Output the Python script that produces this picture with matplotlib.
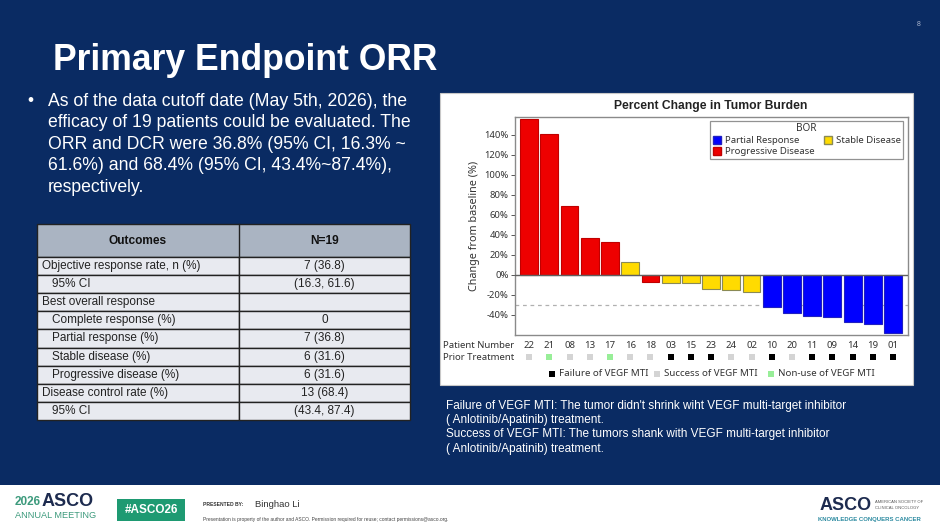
import matplotlib
matplotlib.use("Agg")
import matplotlib.pyplot as plt
from matplotlib.patches import Rectangle, Patch
from matplotlib.transforms import blended_transform_factory

# ---------------- data ----------------
patients = ["22", "21", "08", "13", "17", "16", "18", "03", "15", "23",
            "24", "02", "10", "20", "11", "09", "14", "19", "01"]
change_pct = [156, 141, 68.5, 36.5, 33, 13, -7.5, -8.3, -8.8, -14,
              -15.7, -17, -32.5, -38, -41, -42.5, -47, -49, -58.5]
bor = ["PD", "PD", "PD", "PD", "PD", "SD", "PD", "SD", "SD", "SD",
       "SD", "SD", "PR", "PR", "PR", "PR", "PR", "PR", "PR"]
prior = ["S", "N", "S", "S", "N", "S", "S", "F", "F", "F",
         "S", "S", "F", "S", "F", "F", "F", "F", "F"]
yticks = [-40, -20, 0, 20, 40, 60, 80, 100, 120, 140]
threshold = -30

table_outcomes = ["Objective response rate, n (%)", "95% CI", "Best overall response",
                  "Complete response (%)", "Partial response (%)", "Stable disease (%)",
                  "Progressive disease (%)", "Disease control rate (%)", "95% CI"]
table_indent = [False, True, False, True, True, True, True, False, True]
table_values = ["7 (36.8)", "(16.3, 61.6)", "", "0", "7 (36.8)", "6 (31.6)",
                "6 (31.6)", "13 (68.4)", "(43.4, 87.4)"]
table_header = ["Outcomes", "N=19"]

# ---------------- styles ----------------
NAVY = "#0a2b63"
bor_color = {"PR": "#0000ff", "SD": "#ffdb00", "PD": "#ee0000"}
bor_edge = {"PR": "#2020c0", "SD": "#8a8a55", "PD": "#c00000"}
bor_name = {"PR": "Partial Response", "PD": "Progressive Disease", "SD": "Stable Disease"}
prior_color = {"F": "#000000", "S": "#d4d4d4", "N": "#98ee98"}
prior_name = {"F": "Failure of VEGF MTI", "S": "Success of VEGF MTI", "N": "Non-use of VEGF MTI"}

W, H = 940, 531
fig = plt.figure(figsize=(W / 100, H / 100), dpi=100)
fig.patch.set_facecolor("white")
SL = "Liberation Sans"
CH = "Noto Sans"


def fx(x):
    return x / W


def fy(y):
    return 1 - y / H


# slide background
fig.add_artist(Rectangle((0, fy(485)), 1, 485 / H, transform=fig.transFigure,
                         facecolor=NAVY, edgecolor="none", zorder=0))

# title and bullet
fig.text(fx(53), fy(60), "Primary Endpoint ORR", color="white", fontsize=25.6,
         fontweight="bold", family=SL, va="center", ha="left")
fig.text(fx(27), fy(101), "•", color="white", fontsize=12.5, family=SL, va="center")
bullet_lines = ["As of the data cutoff date (May 5th, 2026), the",
                "efficacy of 19 patients could be evaluated. The",
                "ORR and DCR were 36.8% (95% CI, 16.3% ~",
                "61.6%) and 68.4% (95% CI, 43.4%~87.4%),",
                "respectively."]
for i, line in enumerate(bullet_lines):
    fig.text(fx(47.5), fy(101.5 + 21.4 * i), line, color="white", fontsize=12.7,
             family=SL, va="center", ha="left")

fig.text(fx(919), fy(24), "8", color="#aab4cc", fontsize=5, family=SL, va="center", ha="center")

# ---------------- table ----------------
tx0, tx1, tcol = 37, 410, 239
ty0, thead = 224, 257
row_h = (420 - thead) / len(table_outcomes)
tax = fig.add_axes([0, 0, 1, 1], zorder=2)
tax.set_xlim(0, W)
tax.set_ylim(H, 0)
tax.axis("off")
tax.add_patch(Rectangle((tx0, ty0), tx1 - tx0, thead - ty0, facecolor="#aab4c2",
                        edgecolor="#222222", lw=1.0))
tax.plot([tcol, tcol], [ty0, thead], color="#222222", lw=1.0)
tax.text((tx0 + tcol) / 2, (ty0 + thead) / 2, table_header[0], fontsize=8.6,
         fontweight="bold", family=SL, ha="center", va="center", color="#111111")
tax.text((tcol + tx1) / 2, (ty0 + thead) / 2, table_header[1], fontsize=8.6,
         fontweight="bold", family=SL, ha="center", va="center", color="#111111")
for i, (lab, ind, val) in enumerate(zip(table_outcomes, table_indent, table_values)):
    y0 = thead + i * row_h
    tax.add_patch(Rectangle((tx0, y0), tcol - tx0, row_h, facecolor="#e8eaf0",
                            edgecolor="#222222", lw=1.0))
    tax.add_patch(Rectangle((tcol, y0), tx1 - tcol, row_h, facecolor="#e8eaf0",
                            edgecolor="#222222", lw=1.0))
    tax.text(tx0 + (15 if ind else 4.5), y0 + row_h / 2, lab, fontsize=8.5, family=SL,
             ha="left", va="center", color="#222222")
    tax.text((tcol + tx1) / 2, y0 + row_h / 2, val, fontsize=8.5, family=SL,
             ha="center", va="center", color="#222222")

# ---------------- chart panel ----------------
tax.add_patch(Rectangle((440, 93), 473, 292, facecolor="white", edgecolor="#c8c8c8", lw=0.8))
tax.text(711, 106, "Percent Change in Tumor Burden", fontsize=8.7, fontweight="bold",
         family=SL, ha="center", va="center", color="#222222")

ax = fig.add_axes([fx(515), fy(335), (908 - 515) / W, (335 - 117) / H], zorder=3)
ax.set_facecolor("white")
x = list(range(len(patients)))
ax.bar(x, change_pct, width=0.88, color=[bor_color[b] for b in bor],
       edgecolor=[bor_edge[b] for b in bor], linewidth=0.8, zorder=3)
ax.axhline(0, color="#606060", lw=1.0, zorder=4)
ax.axhline(threshold, color="#b0b0b0", lw=0.9, ls=(0, (3, 3)), zorder=2)
ax.set_xlim(-0.7, len(patients) - 1 + 0.74)
ax.set_ylim(-60.5, 158)
ax.set_xticks([])
ax.set_yticks(yticks)
ax.set_yticklabels([f"{t}%" for t in yticks], fontsize=6.8, family=CH, color="#333333")
ax.tick_params(axis="y", length=3, width=0.7, color="#555555", pad=1.5)
for s in ax.spines.values():
    s.set_color("#8a8a8a")
    s.set_linewidth(1.0)
ax.set_ylabel("Change from baseline (%)", fontsize=7.8, family=CH, color="#333333", labelpad=3)

handles = [Patch(facecolor=bor_color[k], edgecolor=bor_edge[k], label=bor_name[k])
           for k in ["PR", "PD", "SD"]]
leg = ax.legend(handles=handles, title="BOR", ncol=2, loc="upper right",
                bbox_to_anchor=(0.9925, 0.99), fontsize=6.9, title_fontsize=7.2,
                frameon=True, fancybox=False, edgecolor="#777777", borderpad=0.25,
                handlelength=0.85, handleheight=1.0, handletextpad=0.4,
                columnspacing=1.0, labelspacing=0.12, borderaxespad=0.2)
leg.get_frame().set_linewidth(0.9)
leg._legend_box.sep = 1
for t in leg.get_texts():
    t.set_family(CH)
    t.set_color("#333333")
leg.get_title().set_family(CH)
leg.get_title().set_color("#333333")

bt = blended_transform_factory(ax.transData, fig.transFigure)
for xi, p, pr in zip(x, patients, prior):
    ax.text(xi, fy(345.5), p, transform=bt, fontsize=6.9, family=CH, ha="center",
            va="center", color="#333333", clip_on=False)
    ax.scatter([xi], [fy(357)], s=24, marker="s", color=prior_color[pr],
               transform=bt, clip_on=False, zorder=5, linewidths=0)
tax.text(443, 345.5, "Patient Number", fontsize=6.9, family=CH, ha="left", va="center", color="#333333")
tax.text(443, 357, "Prior Treatment", fontsize=6.9, family=CH, ha="left", va="center", color="#333333")

for xk, key in zip([552, 657, 771], ["F", "S", "N"]):
    tax.scatter([xk], [374], s=24, marker="s", color=prior_color[key], linewidths=0, zorder=5)
    tax.text(xk + 7, 374, prior_name[key], fontsize=7.0, family=CH, ha="left",
             va="center", color="#333333")

# notes under chart
notes = ["Failure of VEGF MTI: The tumor didn't shrink wiht VEGF multi-target inhibitor",
         "( Anlotinib/Apatinib) treatment.",
         "Success of VEGF MTI: The tumors shank with VEGF multi-target inhibitor",
         "( Anlotinib/Apatinib) treatment."]
for i, line in enumerate(notes):
    tax.text(446.5, 406 + 14.2 * i, line, fontsize=8.5, family=SL, ha="left",
             va="center", color="white")

# ---------------- footer ----------------
tax.text(15, 502, "2026", fontsize=8.5, fontweight="bold", family=SL, color="#3c9a7c",
         ha="left", va="center")
tax.text(42, 501, "ASCO", fontsize=13, fontweight="bold", family=SL, color="#1d2b4f",
         ha="left", va="center")
tax.text(15, 516, "ANNUAL MEETING", fontsize=6.6, family=SL, color="#3c9a7c",
         ha="left", va="center")
tax.add_patch(Rectangle((117, 499), 68, 22, facecolor="#1e9a72", edgecolor="none"))
tax.text(151, 510, "#ASCO26", fontsize=8.5, fontweight="bold", family=SL, color="white",
         ha="center", va="center")
tax.text(203, 505, "PRESENTED BY:", fontsize=3.6, fontweight="bold", family=SL,
         color="#333333", ha="left", va="center")
tax.text(255, 504.5, "Binghao Li", fontsize=6.8, family=SL, color="#333333",
         ha="left", va="center")
tax.text(203, 520, "Presentation is property of the author and ASCO. Permission required for reuse; "
         "contact permissions@asco.org.", fontsize=3.5, family=SL, color="#444444",
         ha="left", va="center")
tax.text(820, 506, "ASCO", fontsize=13, fontweight="bold", family=SL, color="#1d2b4f",
         ha="left", va="center")
tax.text(875, 502, "AMERICAN SOCIETY OF", fontsize=3, family=SL, color="#555555",
         ha="left", va="center")
tax.text(875, 508, "CLINICAL ONCOLOGY", fontsize=3, family=SL, color="#555555",
         ha="left", va="center")
tax.text(818, 520, "KNOWLEDGE CONQUERS CANCER", fontsize=4.3, fontweight="bold", family=SL,
         color="#2b8aa0", ha="left", va="center")

fig.savefig("out.png", dpi=100, facecolor=fig.get_facecolor())
